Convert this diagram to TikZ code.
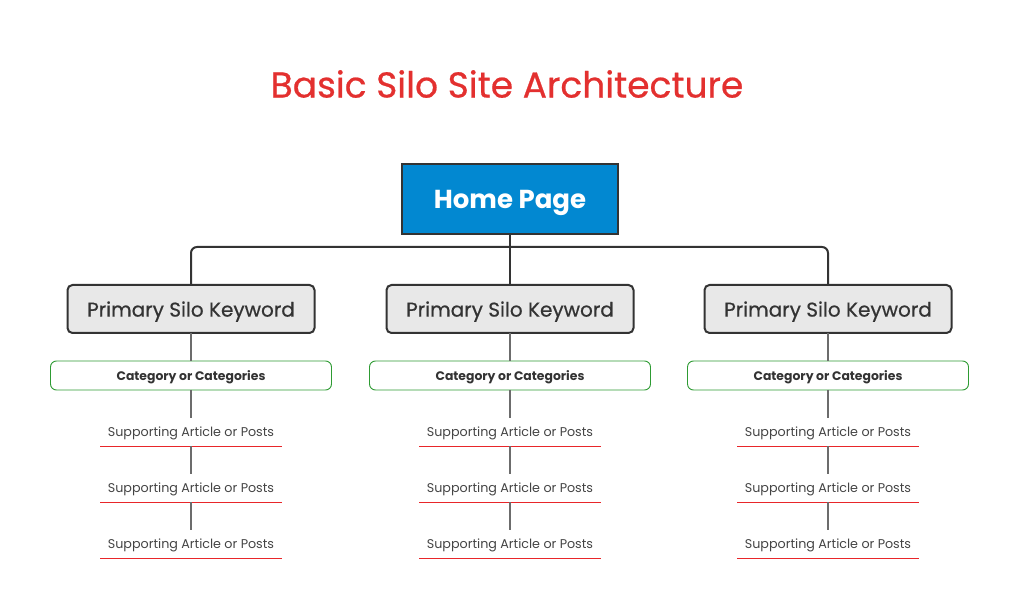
\documentclass[tikz,border=0pt]{standalone}
\usepackage{fontspec}
\setmainfont{Poppins}
\newfontfamily\mediumfont[FakeBold=0.6]{Poppins}
\usepackage{xcolor}
\usetikzlibrary{positioning,calc}

\definecolor{titlered}{HTML}{E3302F}
\definecolor{homeblue}{HTML}{0288D1}
\definecolor{darkline}{HTML}{333333}
\definecolor{silogray}{HTML}{E8E8E8}
\definecolor{catgreen}{HTML}{2E9B33}
\definecolor{postred}{HTML}{E8262A}
\definecolor{textgray}{HTML}{444444}

\tikzset{
    every node/.style={outer sep=0pt},
    home/.style={draw=darkline, line width=2pt, fill=homeblue, text=white, text depth=0pt, minimum width=216pt, minimum height=70pt, font=\fontsize{26}{30}\selectfont\bfseries},
    silo/.style={draw=darkline, line width=2pt, rounded corners=5pt, fill=silogray, text=darkline, text depth=0pt, minimum width=247pt, minimum height=48pt, font=\fontsize{20}{24}\mediumfont},
    category/.style={draw=catgreen, line width=0.9pt, rounded corners=6pt, fill=white, text=darkline, text depth=0pt, minimum width=281pt, minimum height=29pt, font=\fontsize{12.4}{14}\selectfont\bfseries},
    post/.style={minimum width=182pt, minimum height=28pt, inner sep=0pt, text=textgray, text depth=0pt, font=\fontsize{12.7}{15}\selectfont,
        append after command={(\tikzlastnode.south west) edge[draw=postred, line width=1pt] (\tikzlastnode.south east)}},
    trunk/.style={draw=darkline, line width=2pt, rounded corners=6pt},
    branch/.style={draw=gray!85!black, line width=1.2pt}
}

\begin{document}
\begin{tikzpicture}[x=1pt, y=-1pt, node distance=28pt]

    \useasboundingbox (0,0) rectangle (1020,609);

    % Title
    \node[text=titlered, font=\fontsize{36}{42}\mediumfont] (title) at (507,84) {Basic Silo Site Architecture};

    % Home
    \node[home] (homepage) at (510,199) {Home Page};

    % Primary silos
    \node[silo] (siloA) at (191,309) {Primary Silo Keyword};
    \node[silo] (siloB) at (510,309) {Primary Silo Keyword};
    \node[silo] (siloC) at (828,309) {Primary Silo Keyword};

    % Categories
    \node[category, below=of siloA] (catA) {Category or Categories};
    \node[category, below=of siloB] (catB) {Category or Categories};
    \node[category, below=of siloC] (catC) {Category or Categories};

    % Supporting posts
    \node[post, below=of catA] (postA1) {Supporting Article or Posts};
    \node[post, below=of postA1] (postA2) {Supporting Article or Posts};
    \node[post, below=of postA2] (postA3) {Supporting Article or Posts};

    \node[post, below=of catB] (postB1) {Supporting Article or Posts};
    \node[post, below=of postB1] (postB2) {Supporting Article or Posts};
    \node[post, below=of postB2] (postB3) {Supporting Article or Posts};

    \node[post, below=of catC] (postC1) {Supporting Article or Posts};
    \node[post, below=of postC1] (postC2) {Supporting Article or Posts};
    \node[post, below=of postC2] (postC3) {Supporting Article or Posts};

    % Relationships
    \coordinate (bus) at ($(homepage.south)+(0,13)$);
    \draw[trunk] (siloA.north) |- (bus) -| (siloC.north);
    \draw[trunk] (homepage.south) -- (siloB.north);

    \draw[branch] (siloA) -- (catA);
    \draw[branch] (catA) -- (postA1);
    \draw[branch] (postA1) -- (postA2);
    \draw[branch] (postA2) -- (postA3);

    \draw[branch] (siloB) -- (catB);
    \draw[branch] (catB) -- (postB1);
    \draw[branch] (postB1) -- (postB2);
    \draw[branch] (postB2) -- (postB3);

    \draw[branch] (siloC) -- (catC);
    \draw[branch] (catC) -- (postC1);
    \draw[branch] (postC1) -- (postC2);
    \draw[branch] (postC2) -- (postC3);

\end{tikzpicture}
\end{document}
